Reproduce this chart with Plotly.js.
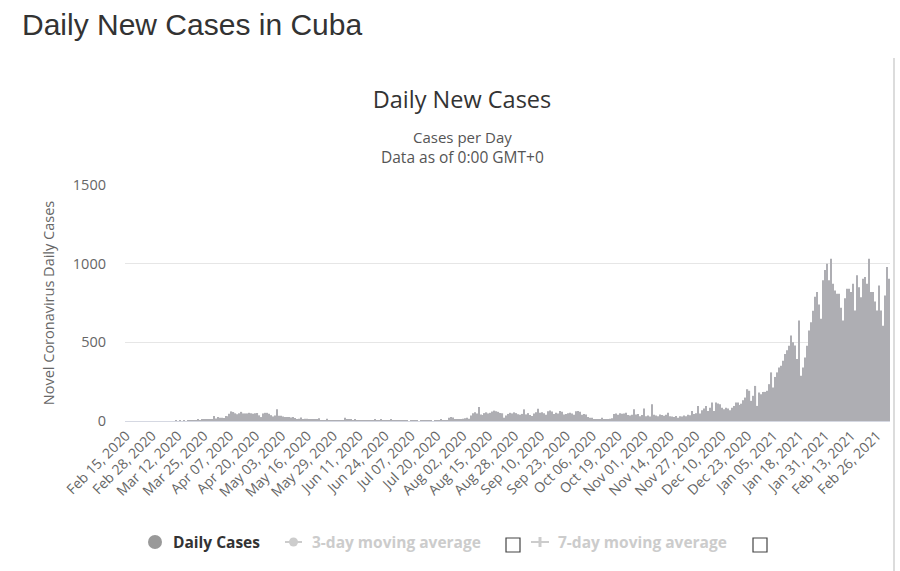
<!DOCTYPE html>
<html>
<head>
<meta charset="utf-8">
<script src="https://cdn.plot.ly/plotly-3.0.1.min.js"></script>
<style>
  html, body { margin: 0; padding: 0; background: #ffffff; }
  #chart { width: 900px; height: 571px; }
</style>
</head>
<body>
<div id="chart"></div>
<script>
// ---- Data (daily new cases, Cuba) ----
const firstDate = '2020-02-15';
const feb2020 = [0,0,0,0,0,0,0,0,0,0,0,0,0,0,0];
const mar2020 = [0,0,0,0,0,0,0,0,0,0,3,0,1,0,1,0,2,3,5,5,5,10,5,8,9,10,13,12,11,31,16];
const apr2020 = [26,21,21,19,32,30,46,61,57,49,43,49,58,48,48,48,52,49,46,49,51,36,25,48,52,52,46,37,29,35];
const may2020 = [74,34,33,29,26,26,25,22,26,19,12,15,22,12,14,15,8,10,8,7,9,18,5,3,5,14,5,3,2,5,1];
const jun2020 = [4,5,6,20,11,8,10,4,8,3,3,1,3,1,4,3,4,1,8,3,1,7,2,3,4,2,7,1,1,3];
const jul2020 = [2,3,2,1,2,0,5,3,1,1,0,3,4,2,1,2,3,0,2,5,6,9,5,4,6,20,25,22,11,10,12];
const aug2020 = [11,14,18,21,15,35,50,55,48,89,42,38,50,55,48,52,60,66,62,58,51,49,21,35,45,52,48,55,50,43,40];
const sep2020 = [45,74,42,50,38,32,48,55,78,52,55,50,40,62,66,60,45,53,48,64,58,42,44,50,53,47,40,62,64,58];
const oct2020 = [40,45,42,25,21,20,12,8,10,9,21,10,8,12,15,18,45,48,40,50,46,47,53,38,35,40,74,42,44,30,38];
const nov2020 = [80,30,35,28,106,40,35,30,42,38,34,40,53,30,28,25,32,20,30,28,35,30,40,36,64,45,50,95,48,68];
const dec2020 = [80,95,64,85,117,64,117,112,106,85,75,85,80,68,85,96,117,117,102,110,132,149,202,192,128,160,223,96,181,170,185];
const jan2021 = [185,192,234,309,213,280,309,340,351,383,426,450,479,543,500,480,394,638,287,340,404,479,575,628,700,790,820,740,650,894,960];
const feb2021 = [1000,894,1032,872,830,809,809,720,638,780,840,840,820,872,702,926,850,787,904,915,872,1032,820,820,760,702,862,702];
const mar2021 = [606,798,979,904];

const dailyCases = [].concat(feb2020, mar2020, apr2020, may2020, jun2020, jul2020,
  aug2020, sep2020, oct2020, nov2020, dec2020, jan2021, feb2021, mar2021);

const yTicks = [0, 500, 1000, 1500];
const legendNames = ['Daily Cases', '3-day moving average', '7-day moving average'];

// category dates, one per day starting at firstDate
const dates = [];
(function () {
  const d0 = new Date(firstDate + 'T00:00:00Z');
  for (let i = 0; i < dailyCases.length; i++) {
    const d = new Date(d0.getTime() + i * 86400000);
    dates.push(d.toISOString().slice(0, 10));
  }
})();

// ---- Layout helpers (plot area: x 125..890, y 185..421 px) ----
const L = 125, R = 890, T = 185, B = 421;
const px = v => (v - L) / (R - L);
const py = v => (B - v) / (B - T);

const FONT = '"Open Sans", "Noto Sans", sans-serif';

const trace = {
  type: 'bar',
  x: dates,
  y: dailyCases,
  name: legendNames[0],
  marker: { color: '#aeaeb3', line: { width: 0 } },
  showlegend: false,
  hovertemplate: '%{x|%b %d, %Y}<br>%{y}<extra></extra>'
};

const lastDate = dates[dates.length - 1];
const layout = {
  width: 900,
  height: 571,
  paper_bgcolor: '#ffffff',
  plot_bgcolor: '#ffffff',
  margin: { l: L, r: 900 - R, t: T, b: 571 - B, pad: 0 },
  bargap: 0.4,
  font: { family: FONT, color: '#666666', size: 13 },
  title: {
    text: 'Daily New Cases',
    font: { family: FONT, size: 23.5, color: '#333333' },
    x: 462 / 900, xanchor: 'center', xref: 'container',
    y: 1 - 100 / 571, yanchor: 'middle', yref: 'container'
  },
  xaxis: {
    type: 'date',
    range: [new Date(new Date(firstDate + 'T00:00:00Z').getTime() - 43200000).toISOString(),
            new Date(new Date(lastDate + 'T00:00:00Z').getTime() + 43200000).toISOString()],
    tick0: firstDate,
    dtick: 13 * 86400000,
    tickformat: '%b %d, %Y',
    tickangle: -45,
    tickfont: { family: FONT, size: 14, color: '#666666' },
    showgrid: false,
    showline: true,
    linecolor: '#d5d8e2',
    linewidth: 1,
    ticks: '',
    zeroline: false,
    fixedrange: true
  },
  yaxis: {
    range: [0, 1500],
    tickvals: yTicks,
    ticktext: yTicks.map(String),
    tickfont: { family: FONT, size: 14.5, color: '#666666' },
    ticklabelstandoff: 18,
    showgrid: true,
    gridcolor: '#e6e6e6',
    gridwidth: 1,
    zeroline: false,
    showline: false,
    ticks: '',
    title: {
      text: 'Novel Coronavirus Daily Cases',
      font: { family: FONT, size: 14.5, color: '#666666' },
      standoff: 14
    },
    fixedrange: true
  },
  annotations: [
    {
      text: 'Daily New Cases in Cuba', xref: 'paper', yref: 'paper',
      x: px(20), y: py(24), xanchor: 'left', yanchor: 'middle', showarrow: false,
      font: { family: '"Liberation Sans", Arial, sans-serif', size: 30, color: '#333333' }
    },
    {
      text: 'Cases per Day', xref: 'paper', yref: 'paper',
      x: px(462), y: py(137), xanchor: 'center', yanchor: 'middle', showarrow: false,
      font: { family: FONT, size: 15, color: '#555555' }
    },
    {
      text: 'Data as of 0:00 GMT+0', xref: 'paper', yref: 'paper',
      x: px(462), y: py(157), xanchor: 'center', yanchor: 'middle', showarrow: false,
      font: { family: FONT, size: 15.5, color: '#555555' }
    },
    {
      text: '<b>' + legendNames[0] + '</b>', xref: 'paper', yref: 'paper',
      x: px(171), y: py(542), xanchor: 'left', yanchor: 'middle', showarrow: false,
      font: { family: FONT, size: 15.5, color: '#333333' }
    },
    {
      text: '<b>' + legendNames[1] + '</b>', xref: 'paper', yref: 'paper',
      x: px(310), y: py(542), xanchor: 'left', yanchor: 'middle', showarrow: false,
      font: { family: FONT, size: 15.5, color: '#cccccc' }
    },
    {
      text: '<b>' + legendNames[2] + '</b>', xref: 'paper', yref: 'paper',
      x: px(556), y: py(542), xanchor: 'left', yanchor: 'middle', showarrow: false,
      font: { family: FONT, size: 15.5, color: '#cccccc' }
    }
  ],
  shapes: [
    // card border on the right
    { type: 'line', xref: 'paper', yref: 'paper', x0: px(894), x1: px(894), y0: py(58), y1: py(571),
      line: { color: '#d0d0d0', width: 1.5 } },
    // legend: daily cases circle
    { type: 'circle', xref: 'paper', yref: 'paper', x0: px(148), x1: px(162), y0: py(535), y1: py(549),
      fillcolor: '#999999', line: { width: 0 } },
    // legend: 3-day symbol
    { type: 'line', xref: 'paper', yref: 'paper', x0: px(285), x1: px(302), y0: py(542), y1: py(542),
      line: { color: '#cccccc', width: 2 } },
    { type: 'circle', xref: 'paper', yref: 'paper', x0: px(289), x1: px(298), y0: py(537.5), y1: py(546.5),
      fillcolor: '#cccccc', line: { width: 0 } },
    // legend: 7-day symbol
    { type: 'line', xref: 'paper', yref: 'paper', x0: px(531), x1: px(549), y0: py(542), y1: py(542),
      line: { color: '#cccccc', width: 2 } },
    { type: 'line', xref: 'paper', yref: 'paper', x0: px(540), x1: px(540), y0: py(537), y1: py(547),
      line: { color: '#cccccc', width: 3 } },
    // checkboxes
    { type: 'rect', xref: 'paper', yref: 'paper', x0: px(506), x1: px(520), y0: py(538), y1: py(552),
      fillcolor: 'rgba(0,0,0,0)', line: { color: '#444444', width: 1.2 } },
    { type: 'rect', xref: 'paper', yref: 'paper', x0: px(753), x1: px(767), y0: py(538), y1: py(552),
      fillcolor: 'rgba(0,0,0,0)', line: { color: '#444444', width: 1.2 } }
  ]
};

Plotly.newPlot('chart', [trace], layout, { displayModeBar: false, responsive: false, staticPlot: false });
</script>
</body>
</html>
